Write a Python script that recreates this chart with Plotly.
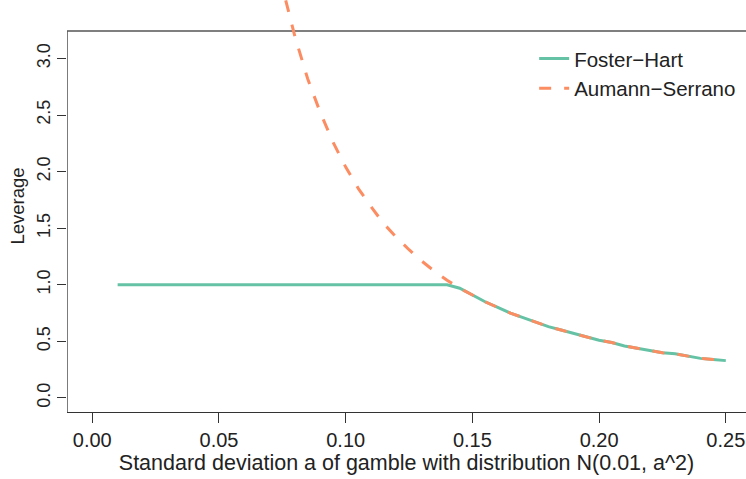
import plotly.graph_objects as go

# Data
fh_x = [0.01, 0.14, 0.145, 0.15, 0.155, 0.16, 0.165, 0.17, 0.175, 0.18, 0.185, 0.19,
        0.195, 0.20, 0.205, 0.21, 0.215, 0.22, 0.225, 0.23, 0.235, 0.24, 0.245, 0.25]
fh_y = [1.00, 1.00, 0.97, 0.91, 0.85, 0.80, 0.75, 0.71, 0.67, 0.63, 0.60, 0.57,
        0.54, 0.51, 0.49, 0.46, 0.44, 0.42, 0.40, 0.39, 0.37, 0.35, 0.34, 0.33]

as_x = [0.070, 0.075, 0.080, 0.085, 0.090, 0.095, 0.100, 0.105, 0.110, 0.115, 0.120,
        0.125, 0.130, 0.135, 0.140, 0.145, 0.150, 0.155, 0.160, 0.165, 0.170, 0.175,
        0.180, 0.185, 0.190, 0.195, 0.200, 0.205, 0.210, 0.215, 0.220, 0.225, 0.230,
        0.235, 0.240, 0.245, 0.250]
as_y = [4.16, 3.63, 3.19, 2.82, 2.52, 2.26, 2.04, 1.85, 1.69, 1.54, 1.42,
        1.31, 1.21, 1.12, 1.04, 0.97, 0.91, 0.85, 0.80, 0.75, 0.71, 0.67,
        0.63, 0.60, 0.57, 0.54, 0.51, 0.49, 0.46, 0.44, 0.42, 0.40, 0.39,
        0.37, 0.35, 0.34, 0.33]

x_ticks = [0.00, 0.05, 0.10, 0.15, 0.20, 0.25]
x_tick_labels = ["0.00", "0.05", "0.10", "0.15", "0.20", "0.25"]
y_ticks = [0.0, 0.5, 1.0, 1.5, 2.0, 2.5, 3.0]
y_tick_labels = ["0.0", "0.5", "1.0", "1.5", "2.0", "2.5", "3.0"]

GREEN = "#66C2A5"
ORANGE = "#FC8D62"
FONT = "Liberation Sans"

X0, X1 = -0.00998, 0.25797
Y0, Y1 = -0.1238, 3.516
BOX_TOP = 3.242

fig = go.Figure()
fig.add_trace(go.Scatter(x=fh_x, y=fh_y, mode="lines", name="Foster\u2212Hart",
                         line=dict(color=GREEN, width=3)))
fig.add_trace(go.Scatter(x=as_x, y=as_y, mode="lines", name="Aumann\u2212Serrano",
                         line=dict(color=ORANGE, width=3, dash="12px,13px")))

# box: left and top edges
fig.add_shape(type="line", xref="x", yref="y", x0=X0, x1=X0, y0=Y0, y1=BOX_TOP,
              line=dict(color="#333333", width=1.3), layer="below")
fig.add_shape(type="line", xref="x", yref="y", x0=X0, x1=X1, y0=BOX_TOP, y1=BOX_TOP,
              line=dict(color="#555555", width=1.3), layer="below")

fig.update_layout(
    width=746, height=479,
    margin=dict(l=67, r=0, t=0, b=67),
    paper_bgcolor="white", plot_bgcolor="white",
    font=dict(family=FONT, size=20, color="#222222"),
    showlegend=True,
    legend=dict(x=0.688, y=0.906, xanchor="left", yanchor="top",
                bgcolor="rgba(0,0,0,0)", font=dict(size=20.5, family=FONT),
                tracegroupgap=0),
    xaxis=dict(range=[X0, X1], tickvals=x_ticks, ticktext=x_tick_labels,
               ticks="outside", ticklen=10, tickcolor="#333333", tickwidth=1.2,
               showline=True, linecolor="#333333", linewidth=1.3,
               showgrid=False, zeroline=False, automargin=False,
               title=dict(text="Standard deviation a of gamble with distribution N(0.01, a^2)",
                          standoff=2, font=dict(size=21.5)),
               tickfont=dict(size=20)),
    yaxis=dict(range=[Y0, Y1], tickvals=y_ticks, ticktext=y_tick_labels,
               ticks="outside", ticklen=9, tickcolor="#333333", tickwidth=1.2,
               showline=False, showgrid=False, zeroline=False, tickangle=-90,
               automargin=False,
               title=dict(text="Leverage", standoff=4, font=dict(size=18.5)),
               tickfont=dict(size=18)),
)

fig.write_html("out.html", config={"displayModeBar": False},
               post_script="document.body.style.margin='0';document.body.style.overflow='hidden';")
